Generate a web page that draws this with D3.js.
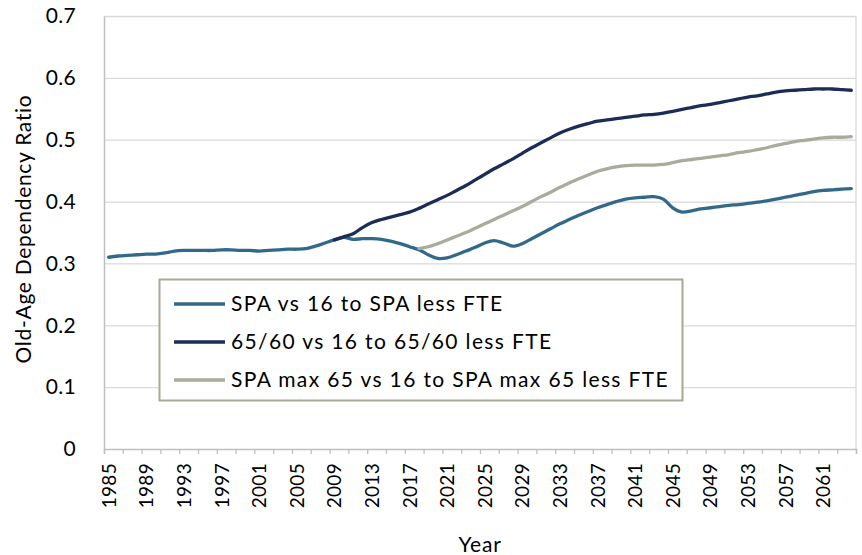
<!DOCTYPE html>
<html><head><meta charset="utf-8">
<script src="https://cdn.jsdelivr.net/npm/d3@7"></script>
<style>
html,body{margin:0;padding:0;background:#fff;}
text{font-family:Lato,"Open Sans",sans-serif;fill:#000;}
</style></head>
<body><svg id="chart" width="862" height="555"></svg>
<script>
const years = d3.range(1985, 2065);
const labelYears = d3.range(1985, 2065, 4);
const yTicks = [0, 0.1, 0.2, 0.3, 0.4, 0.5, 0.6, 0.7];
const seriesNames = ["SPA vs 16 to SPA less FTE", "65/60 vs 16 to 65/60 less FTE", "SPA max 65 vs 16 to SPA max 65 less FTE"];
const seriesColors = ["#32698a", "#1b2c56", "#aaab9c"];

// SPA vs 16 to SPA less FTE, 1985-2064
const spa = [0.310,0.312,0.313,0.314,0.315,0.315,0.317,0.320,0.321,0.321,
0.321,0.321,0.322,0.322,0.321,0.321,0.320,0.321,0.322,0.323,
0.323,0.324,0.328,0.333,0.338,0.342,0.339,0.340,0.340,0.339,
0.336,0.332,0.327,0.322,0.314,0.308,0.309,0.314,0.320,0.326,
0.333,0.337,0.333,0.328,0.332,0.340,0.348,0.356,0.364,0.371,
0.378,0.384,0.390,0.395,0.400,0.404,0.406,0.407,0.408,0.404,
0.390,0.383,0.385,0.388,0.390,0.392,0.394,0.395,0.397,0.399,
0.401,0.404,0.407,0.410,0.413,0.416,0.418,0.419,0.420,0.421];
// 65/60 vs 16 to 65/60 less FTE, 2009-2064
const fixed = [0.338,0.343,0.348,0.358,0.366,0.371,0.375,0.379,0.383,0.389,
0.396,0.403,0.410,0.418,0.426,0.435,0.444,0.453,0.461,0.469,
0.478,0.487,0.495,0.503,0.511,0.517,0.522,0.526,0.530,0.532,
0.534,0.536,0.538,0.540,0.541,0.543,0.546,0.549,0.552,0.555,
0.557,0.560,0.563,0.566,0.569,0.571,0.574,0.577,0.579,0.580,
0.581,0.582,0.582,0.582,0.581,0.580];
// SPA max 65 vs 16 to SPA max 65 less FTE, 2018-2064
const capped = [0.324,0.327,0.332,0.338,0.344,0.350,0.357,0.364,0.371,0.378,
0.385,0.392,0.400,0.408,0.415,0.423,0.430,0.437,0.443,0.449,
0.453,0.456,0.458,0.459,0.459,0.459,0.460,0.463,0.466,0.468,
0.470,0.472,0.474,0.476,0.479,0.481,0.484,0.487,0.491,0.494,
0.497,0.499,0.501,0.503,0.504,0.504,0.505];
const startYears = [1985, 2009, 2018];

const svg = d3.select("#chart");
const L = 104, R = 856, T = 16, B = 449;
const x = d3.scalePoint().domain(years).range([L, R]).padding(0.5);
const xb = d3.scaleLinear().domain([1985, 2065]).range([L, R]);
const y = d3.scaleLinear().domain([0, 0.7]).range([B, T]);

// gridlines
const grid = svg.append("g").attr("transform", `translate(${L},0)`)
  .call(d3.axisLeft(y).tickValues(yTicks.slice(1)).tickSize(-(R - L)).tickFormat(""));
grid.select(".domain").remove();
grid.selectAll("line").attr("stroke", "#d9d9d9").attr("stroke-width", 1.3);

// right border
svg.append("line").attr("x1", R).attr("x2", R).attr("y1", T).attr("y2", B)
  .attr("stroke", "#d9d9d9").attr("stroke-width", 1.3);

// y axis
const ya = svg.append("g").attr("transform", `translate(${L},0)`)
  .call(d3.axisLeft(y).tickValues(yTicks).tickSize(0).tickPadding(28).tickFormat(d => d === 0 ? "0" : d3.format(".1f")(d)));
ya.select(".domain").attr("stroke", "#bfbfbf").attr("stroke-width", 1.5);
ya.selectAll("text").style("font-size", "21px").style("letter-spacing", "0.3px");

// x axis ticks
const xa = svg.append("g").attr("transform", `translate(0,${B})`)
  .call(d3.axisBottom(xb).tickValues(d3.range(1985, 2066, 2)).tickSize(5).tickFormat(""));
xa.select(".domain").attr("stroke", "#bfbfbf").attr("stroke-width", 1.5);
xa.selectAll("line").attr("stroke", "#bfbfbf").attr("stroke-width", 1.3);

// x labels
const xl = svg.append("g").attr("transform", `translate(0,${B})`)
  .call(d3.axisBottom(x).tickValues(labelYears).tickSize(0).tickFormat(d3.format("d")));
xl.select(".domain").remove();
xl.selectAll("text").style("font-size", "19px").style("letter-spacing", "0.3px")
  .attr("transform", "rotate(-90)").attr("text-anchor", "end")
  .attr("x", -14).attr("y", 0).attr("dy", "0.35em");

// axis titles
svg.append("text").attr("x", 480).attr("y", 552).attr("text-anchor", "middle")
  .style("font-size", "21px").style("letter-spacing", "0.8px").text("Year");
svg.append("text").attr("transform", "translate(31,229) rotate(-90)").attr("text-anchor", "middle")
  .style("font-size", "21px").style("letter-spacing", "0.7px").text("Old-Age Dependency Ratio");

// lines
const allSeries = [spa, fixed, capped].map((arr, i) => arr.map((v, j) => ({year: startYears[i] + j, v})));
const line = d3.line().x(d => x(d.year)).y(d => y(d.v)).curve(d3.curveCatmullRom.alpha(0.5));
allSeries.forEach((s, i) => {
  svg.append("path").datum(s).attr("d", line).attr("fill", "none")
    .attr("stroke", seriesColors[i]).attr("stroke-width", 3.3)
    .attr("stroke-linecap", "round").attr("stroke-linejoin", "round");
});

// legend
const lg = svg.append("g");
lg.append("rect").attr("x", 159.5).attr("y", 279.5).attr("width", 523).attr("height", 121)
  .attr("fill", "#fff").attr("stroke", "#a7a994").attr("stroke-width", 2);
seriesNames.forEach((n, i) => {
  const cy = 304 + i * 38;
  lg.append("line").attr("x1", 174).attr("x2", 225).attr("y1", cy).attr("y2", cy)
    .attr("stroke", seriesColors[i]).attr("stroke-width", 3.3);
  lg.append("text").attr("x", 231).attr("y", cy).attr("dy", "0.35em")
    .style("font-size", "21px").style("letter-spacing", "1.35px").text(n);
});
</script></body></html>
